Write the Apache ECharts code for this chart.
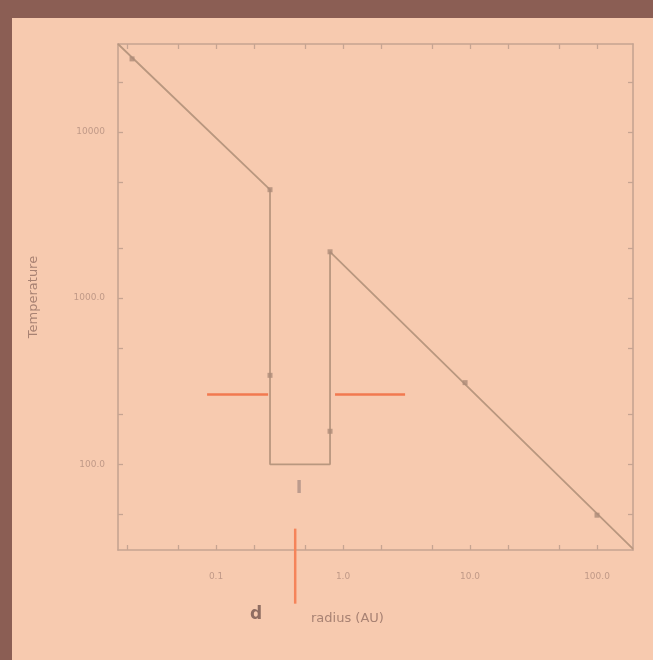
<!DOCTYPE html>
<html><head><meta charset="utf-8">
<script src="https://cdn.jsdelivr.net/npm/echarts@6/dist/echarts.min.js"></script>
<style>
html,body{margin:0;padding:0;background:#f7caaf;}
#c{width:653px;height:660px;background:#f7caaf;box-shadow:inset 12px 18px 0 #8b5e54;}
</style>
</head><body><div id="c"></div>
<script>
// ---- data ----
const radiusMajor = [0.1, 1, 10, 100];
const radiusLabels = ['0.1', '1.0', '10.0', '100.0'];
const radiusMinor = [0.02, 0.05, 0.2, 0.5, 2, 5, 20, 50];
const tempMajor = [100, 1000, 10000];
const tempLabels = ['100.0', '1000.0', '10000'];
const tempMinor = [50, 200, 500, 2000, 5000, 20000];
const radiusRange = [0.0169, 192];
const tempRange = [30.5, 33800];

const profileR = [0.0169, 0.266, 0.266, 0.79, 0.79, 192];
const profileT = [33800, 4490, 100, 100, 1900, 31];
const markerR = [0.0218, 0.266, 0.266, 0.79, 0.79, 9.14, 100];
const markerT = [27500, 4490, 343, 158, 1900, 310, 49.4];

const snowLeftR = [0.085, 0.257];
const snowRightR = [0.865, 3.08];
const snowT = 263;
const markR = 0.42;
const markT = [41, 14.5];
const gapLabelR = 0.45, gapLabelT = 72, gapLabelText = 'I';

// ---- chart ----
const L = Math.log10;
const frameColor = '#c6a491';
const labelColor = '#c19a88';
const fmt = (majors, labels) => v => {
  const i = majors.findIndex(m => Math.abs(L(m) - v) < 1e-6);
  return i >= 0 ? labels[i] : '';
};
const xTicks = radiusMajor.concat(radiusMinor).map(L);
const yTicks = tempMajor.concat(tempMinor).map(L);

function xAxis(pos, labels) {
  return {
    type: 'value', position: pos, min: L(radiusRange[0]), max: L(radiusRange[1]),
    axisLine: {show: true, onZero: false, lineStyle: {color: frameColor, width: 1.6}},
    axisTick: {show: true, inside: true, length: 5, customValues: xTicks, lineStyle: {color: frameColor, width: 1.3}},
    axisLabel: {show: labels, customValues: radiusMajor.map(L), formatter: fmt(radiusMajor, radiusLabels),
      color: labelColor, fontSize: 9, margin: 22, fontFamily: 'DejaVu Sans'},
    splitLine: {show: false}
  };
}
function yAxis(pos, labels) {
  return {
    type: 'value', position: pos, min: L(tempRange[0]), max: L(tempRange[1]),
    axisLine: {show: true, onZero: false, lineStyle: {color: frameColor, width: 1.6}},
    axisTick: {show: true, inside: true, length: 5, customValues: yTicks, lineStyle: {color: frameColor, width: 1.3}},
    axisLabel: {show: labels, customValues: tempMajor.map(L), formatter: fmt(tempMajor, tempLabels),
      color: labelColor, fontSize: 9, margin: 13, fontFamily: 'DejaVu Sans'},
    splitLine: {show: false},
    name: labels ? 'Temperature' : '', nameLocation: 'middle', nameGap: 78,
    nameTextStyle: {color: '#a88273', fontSize: 13, fontFamily: 'DejaVu Sans'}
  };
}

const pts = (rs, ts) => rs.map((r, i) => [L(r), L(Array.isArray(ts) ? ts[i] : ts)]);
const orange = {color: '#f2794f', width: 2.5};

const chart = echarts.init(document.getElementById('c'));
chart.setOption({
  animation: false,
  grid: {left: 118, top: 44, right: 20, bottom: 110, containLabel: false},
  xAxis: [xAxis('bottom', true), xAxis('top', false)],
  yAxis: [yAxis('left', true), yAxis('right', false)],
  series: [
    {type: 'line', data: pts(profileR, profileT), symbol: 'none',
      lineStyle: {color: '#b9977f', width: 1.8}, z: 3},
    {type: 'scatter', data: pts(markerR, markerT), symbol: 'rect', symbolSize: 5,
      itemStyle: {color: '#ad8b78'}, z: 4},
    {type: 'line', data: pts(snowLeftR, snowT), symbol: 'none', lineStyle: orange},
    {type: 'line', data: pts(snowRightR, snowT), symbol: 'none', lineStyle: orange},
    {type: 'line', data: pts([markR, markR], markT), symbol: 'none', clip: false,
      lineStyle: {color: '#f5845a', width: 2.5}},
    {type: 'scatter', data: [[L(gapLabelR), L(gapLabelT)]], symbolSize: 0, clip: false,
      label: {show: true, position: 'inside', formatter: gapLabelText, color: '#ad8f84',
        fontSize: 18, fontWeight: 'bold', fontFamily: 'DejaVu Sans'}}
  ],
  graphic: [
    {type: 'text', left: 250, top: 606, style: {text: 'd', fill: '#8f6d62', font: 'bold 17px DejaVu Sans'}},
    {type: 'text', left: 311, top: 612, style: {text: 'radius (AU)', fill: '#a88273', font: '13px DejaVu Sans'}}
  ]
});
</script>
</body></html>
